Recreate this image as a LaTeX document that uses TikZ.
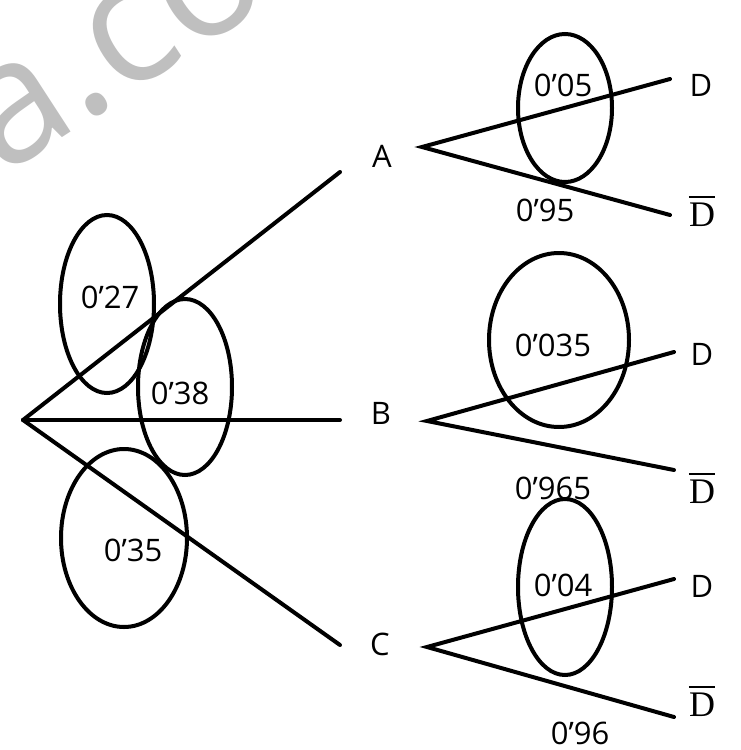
\documentclass[tikz,border=0pt]{standalone}
\usepackage{fontspec}
\setmainfont{Open Sans}
\newfontfamily\serifD{Liberation Serif}
\begin{document}
\begin{tikzpicture}[x=1pt,y=-1pt,
  br/.style={line width=4pt, line cap=round},
  oval/.style={line width=4pt},
  ovl/.style={line width=1.6pt},
  lab/.style={font=\fontsize{31}{31}\selectfont, inner sep=0pt},
  num/.style={font=\fontsize{31}{31}\selectfont, inner sep=0pt},
  dlab/.style={font=\fontsize{36}{36}\serifD, inner sep=0pt}]
\useasboundingbox (0,0) rectangle (741,750);
\clip (0,0) rectangle (741,750);
% watermark
\node[rotate=33, anchor=base west, text=black!25, inner sep=0pt,
  font=\fontsize{172}{172}\selectfont] (wm) at (2,177) {a.co};
% root and first-level ends
\coordinate (O) at (23,420);
\coordinate (eA) at (340,172);
\coordinate (eB) at (340,420);
\coordinate (eC) at (340,645);
\draw[br] (O) -- (eA);
\draw[br] (O) -- (eB);
\draw[br] (O) -- (eC);
\node[lab] (A) at (382,156) {A};
\node[lab] (B) at (381,413) {B};
\node[lab] (C) at (380,644) {C};
% second level
\coordinate (sA) at (422,147);
\coordinate (sB) at (427,421);
\coordinate (sC) at (427,647);
\coordinate (AD) at (670,79);
\coordinate (ADb) at (670,215);
\coordinate (BD) at (674,352);
\coordinate (BDb) at (674,470);
\coordinate (CD) at (674,579);
\coordinate (CDb) at (674,717);
\draw[br] (AD) -- (sA) -- (ADb);
\draw[br] (BD) -- (sB) -- (BDb);
\draw[br] (CD) -- (sC) -- (CDb);
\node[lab] (lAD) at (701,85) {D};
\node[lab] (lBD) at (702,354) {D};
\node[lab] (lCD) at (702,586) {D};
\node[dlab] (lADb) at (702,215) {D};
\node[dlab] (lBDb) at (702,492) {D};
\node[dlab] (lCDb) at (702,705) {D};
\foreach \n in {lADb,lBDb,lCDb}
  \draw[ovl] ([yshift=6pt]\n.north west) -- ([yshift=6pt]\n.north east);
% ovals
\draw[oval] (107,304) ellipse [x radius=47, y radius=89];
\draw[oval] (185,387) ellipse [x radius=47, y radius=88];
\draw[oval] (124,538) ellipse [x radius=63, y radius=89];
\draw[oval] (565,108) ellipse [x radius=47, y radius=74];
\draw[oval] (559,340) ellipse [x radius=70, y radius=87];
\draw[oval] (565,587) ellipse [x radius=47, y radius=88];
% numbers
\node[num] (n27) at (110,297) {0’27};
\node[num] (n38) at (180,393) {0’38};
\node[num] (n35) at (133,550) {0’35};
\node[num] (n05) at (563,85) {0’05};
\node[num] (n95) at (545,210) {0’95};
\node[num] (n035) at (553,345) {0’035};
\node[num] (n965) at (553,488) {0’965};
\node[num] (n04) at (563,585) {0’04};
\node[num] (n96) at (580,733) {0’96};
\end{tikzpicture}
\end{document}
